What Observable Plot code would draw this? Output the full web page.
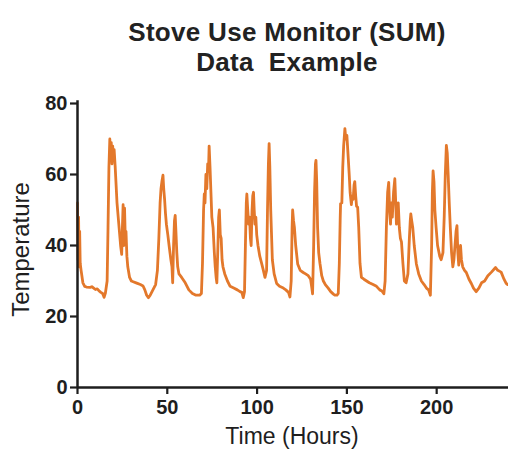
<!DOCTYPE html>
<html>
<head>
<meta charset="utf-8">
<script src="https://cdn.jsdelivr.net/npm/d3@7"></script>
<script src="https://cdn.jsdelivr.net/npm/@observablehq/plot@0.6"></script>
<style>
  html, body { margin: 0; padding: 0; background: #fff; }
  #title {
    height: 80px; box-sizing: border-box; padding-top: 17px; padding-left: 66px;
    text-align: center; font-family: "Liberation Sans", Arial, sans-serif;
    font-weight: bold; font-size: 26px; line-height: 30px; color: #222; letter-spacing: 0.3px;
  }
</style>
</head>
<body>
<div id="title"></div>
<div id="chart"></div>
<script>
const titleLines = ["Stove Use Monitor (SUM)", "Data\u00a0 Example"];
const xLabel = "Time (Hours)";
const yLabel = "Temperature";
const xTicks = [0, 50, 100, 150, 200];
const yTicks = [0, 20, 40, 60, 80];

const hours = [0,0.3,0.6,0.9,1.2,1.5,2,3,4,5,7,8,9,10,11,12,13,14,14.8,15.5,16.5,17,17.5,18,18.4,18.8,19.2,19.6,20,20.4,21,22,23,24,24.6,25,25.4,25.8,26.2,26.6,27,27.5,28,29,30,31,33,35,36.5,37.5,38.5,39.5,40.5,42,43.5,44.5,45.3,46,46.5,47,47.6,48,48.5,49,49.5,50.3,51,52,52.6,53,53.5,54,54.4,54.8,55.3,55.8,56.5,58,60,62,64,66,68,69,69.6,70.2,70.6,71,71.5,72,72.5,73,73.3,73.8,74.3,74.8,75.5,76.2,76.7,77.2,77.6,78.2,78.6,79,79.5,80,80.5,81,82,83.5,85,87,89,90.5,91.5,92.3,93,93.5,94,94.3,94.8,95.3,95.8,96.3,96.7,97.2,97.6,98,98.4,98.8,99.3,99.8,100.5,101.5,102.6,103.5,104.4,105.3,105.8,106.3,106.7,107.1,107.6,108.5,109.5,110.9,112.5,114.6,116,117.5,118.3,119,119.5,119.8,120.3,120.8,121.5,122.6,124,125.7,127,128.5,129.8,130.5,130.9,131.5,132,132.5,132.8,133.2,133.7,134.3,135,136,136.9,138,139.6,141,142.5,143.3,144.5,145.2,145.8,146.3,146.5,147.2,147.7,148.2,148.9,149.4,150,150.6,151.3,151.8,152.5,153,153.5,154,154.4,154.9,155.4,156,156.6,157.3,158.1,159.5,161,162.5,164.6,166.5,168.3,169.5,170.6,171.3,172,172.7,173.3,173.8,174.3,174.8,175.3,176,176.7,177.2,177.6,178.1,178.6,179.2,179.8,180.4,181.2,182,183,184,184.8,185.3,185.6,186.1,186.7,187.5,188.7,190,191.5,193,194.3,195.5,196.5,197.2,197.6,198,198.5,199,199.7,200.5,201.7,202.5,203.5,204.2,204.8,205.4,205.9,206.4,207,207.6,208.3,209,209.6,210.2,210.8,211.3,211.8,212.3,212.8,213.3,213.8,214.5,215.5,216.5,218,219.3,220.5,222,223.5,225,226.7,228.5,230.5,232.8,234,235.9,237.5,238.7,239.5];

const temps = [52,36,48,34,44,35,33,29.5,28.5,28.3,28.2,28.4,28,27.6,27.8,27.2,26.8,26.5,25.4,26.5,30,45,62,70,64,69,63,68,64,67,62,52,46,40,37.5,45,51.5,40,50.5,42,44,37,34,31,30,29.8,29.4,29,28.6,27.5,26,25.3,26,27.5,29,33,42,52,56,58,59.8,56,53,49,46,43,40,36,34,29.5,40,47,48.5,44,38,34,32,31,29.5,27.5,26.5,26,26,26.5,35,50,54.5,52,60,56,63,62,68,62,55,48,45,38,34,31,29.5,40,48,50,43,42,36,34,32,30,28.5,28,27.5,27,26.8,25.3,27,40,52,54.5,50,46,48,42,40,50,54,55,50,46,48,43,40,37,34.8,33,31,33,50,63,68.7,62,50,36,32,29.3,28.5,28,27.5,26.8,25.5,30,45,50,47,45,40,34.8,33,32.4,32,31.5,30.5,28,26.4,40,55,63,64,58,45,38,35,31.5,30,29,28,27,26.3,26,26,26.5,35,48,51.8,52,62,68,72.9,70,71,66,60,55,51.5,54,53,57,58,54,51,50.8,45,35,31,30.5,30,29.5,29,28.5,27.5,27.2,26.4,30,45,55,57.8,50,46,52,48,55,58.8,52,46,50,52,45,42,41,35,30,29.5,32,42,47,48.9,47,45,40,34.8,32,30,29,28,27.5,26,40,55,61,58,50,45,40,37,36,38,48,60,68.2,66,60,52,45,38,34,36,40,44,45.6,38,34.5,38,40,36,34,33,32.4,30.5,29.3,28,27,28,29.5,30,31.5,32.5,33.8,33,32.5,30.5,29.3,29];

const data = hours.map((h, i) => ({hour: h, temp: temps[i]}));

document.getElementById("title").innerHTML = titleLines.join("<br>");

const font = "'Liberation Sans', Arial, sans-serif";
const ink = "#1e1e1e";

const chart = Plot.plot({
  width: 508,
  height: 373,
  marginTop: 23,
  marginBottom: 66,
  marginLeft: 77,
  marginRight: 0,
  style: {fontFamily: font, color: ink, background: "#fff", overflow: "visible"},
  x: {domain: [0, 240]},
  y: {domain: [0, 80]},
  marks: [
    Plot.line(data, {x: "hour", y: "temp", stroke: "#e3782b", strokeWidth: 2.8, strokeLinejoin: "round"}),
    Plot.ruleX([0], {y1: 0, y2: 80.8, stroke: ink, strokeWidth: 2.5}),
    Plot.ruleY([0], {stroke: ink, strokeWidth: 2.5}),
    Plot.axisX({ticks: xTicks, tickSize: 7, tickPadding: 5, fontSize: 20, fontWeight: "bold", label: null, strokeWidth: 2.2}),
    Plot.axisY({ticks: yTicks, tickSize: 7, tickPadding: 3, fontSize: 20, fontWeight: "bold", label: null, strokeWidth: 2.2}),
    Plot.text([yLabel], {frameAnchor: "left", textAnchor: "middle", rotate: -90, dx: -56, dy: 4, fontSize: 24, fill: ink}),
    Plot.text([xLabel], {frameAnchor: "bottom", dy: 56, dx: -1, fontSize: 23, fill: ink})
  ]
});
document.getElementById("chart").appendChild(chart);
</script>
</body>
</html>
